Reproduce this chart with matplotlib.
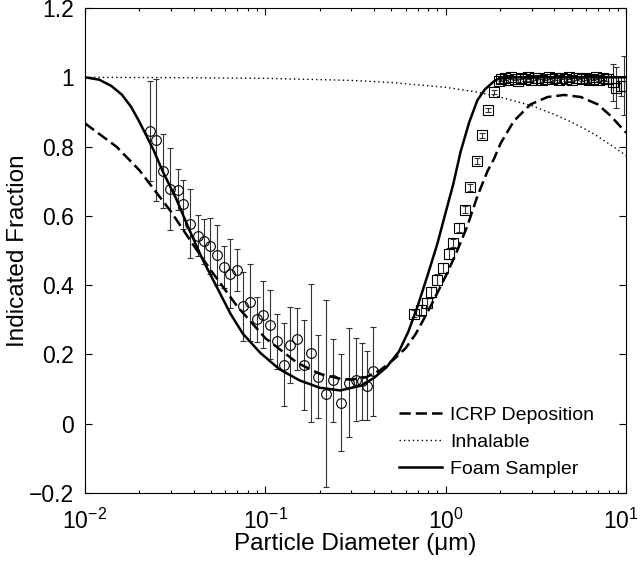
import numpy as np
import matplotlib.pyplot as plt
from matplotlib.ticker import LogLocator, NullFormatter, FixedLocator, FixedFormatter, LogFormatterSciNotation
from matplotlib.transforms import ScaledTranslation

plt.rcParams['font.family'] = ['Liberation Sans', 'DejaVu Sans']
plt.rcParams['mathtext.fontset'] = 'custom'
plt.rcParams['mathtext.rm'] = 'Liberation Sans'
plt.rcParams['mathtext.it'] = 'Liberation Sans:italic'

# ICRP total deposition (dashed)
icrp_d = [0.010, 0.015, 0.020, 0.030, 0.040, 0.050, 0.070, 0.100, 0.150, 0.200,
          0.260, 0.300, 0.365, 0.435, 0.514, 0.600, 0.680, 0.790, 0.900, 1.02,
          1.16, 1.318, 1.50, 1.706, 1.855, 2.02, 2.39, 2.96, 3.67, 4.54,
          5.62, 6.96, 8.25, 10.0]
icrp_f = [0.867, 0.799, 0.732, 0.612, 0.515, 0.442, 0.338, 0.247, 0.176, 0.144,
          0.130, 0.127, 0.135, 0.155, 0.185, 0.218, 0.258, 0.320, 0.378, 0.435,
          0.500, 0.570, 0.657, 0.729, 0.765, 0.810, 0.874, 0.922, 0.943, 0.949,
          0.943, 0.922, 0.888, 0.840]

# inhalable convention (dotted)
inh_d = [0.01, 0.03, 0.1, 0.3, 0.5, 1.0, 1.5, 2.0, 3.0, 4.0, 5.0, 6.0, 7.0, 8.0, 9.0, 10.0]
inh_f = [1.000, 0.999, 0.997, 0.991, 0.985, 0.971, 0.957, 0.943, 0.918, 0.893,
         0.870, 0.849, 0.829, 0.809, 0.791, 0.774]

# foam sampler model (solid)
foam_d = [0.0100, 0.0120, 0.0140, 0.0160, 0.0180, 0.0200, 0.0240, 0.0270, 0.0320,
          0.0380, 0.0450, 0.0540, 0.0640, 0.0750, 0.0940, 0.120, 0.155, 0.200,
          0.260, 0.340, 0.400, 0.470, 0.550, 0.620, 0.700, 0.800, 0.900, 1.00,
          1.10, 1.21, 1.35, 1.50, 1.65, 1.85, 2.00, 2.50, 10.0]
foam_f = [1.000, 0.993, 0.975, 0.950, 0.915, 0.872, 0.790, 0.728, 0.650,
          0.558, 0.473, 0.393, 0.318, 0.260, 0.204, 0.157, 0.125, 0.104,
          0.096, 0.110, 0.132, 0.163, 0.208, 0.265, 0.340, 0.434, 0.520, 0.610,
          0.690, 0.785, 0.870, 0.934, 0.965, 0.988, 0.998, 1.000, 1.000]

# measured points, small particles (circles)
circ_d = [0.0230, 0.0248, 0.0270, 0.0297, 0.0327, 0.0349, 0.0383, 0.0421, 0.0458,
          0.0491, 0.0539, 0.0592, 0.0639, 0.0696, 0.0752, 0.0826, 0.0899, 0.0971,
          0.1056, 0.1161, 0.1264, 0.1376, 0.150, 0.1647, 0.1794, 0.1953, 0.2182,
          0.2377, 0.2634, 0.290, 0.320, 0.345, 0.364, 0.397]
circ_f = [0.845, 0.819, 0.730, 0.678, 0.676, 0.633, 0.577, 0.543, 0.527,
          0.513, 0.488, 0.452, 0.433, 0.443, 0.339, 0.350, 0.302, 0.315,
          0.286, 0.238, 0.170, 0.228, 0.245, 0.170, 0.204, 0.136, 0.087,
          0.125, 0.060, 0.118, 0.127, 0.122, 0.110, 0.151]
circ_e = [0.145, 0.176, 0.106, 0.118, 0.060, 0.070, 0.100, 0.060, 0.065,
          0.080, 0.087, 0.060, 0.100, 0.060, 0.100, 0.110, 0.065, 0.096,
          0.100, 0.080, 0.120, 0.110, 0.090, 0.130, 0.200, 0.120, 0.270,
          0.120, 0.140, 0.157, 0.120, 0.110, 0.100, 0.128]

# measured points, large particles (squares)
sq_d = [0.667, 0.726, 0.784, 0.833, 0.895, 0.964, 1.043, 1.104, 1.186, 1.276,
        1.371, 1.493, 1.585, 1.718, 1.855, 1.977,
        2.03, 2.12, 2.21, 2.31, 2.41, 2.52, 2.63, 2.75, 2.87, 2.99, 3.13, 3.27,
        3.41, 3.56, 3.72, 3.88, 4.05, 4.23, 4.42, 4.62, 4.82, 5.03, 5.26, 5.49,
        5.73, 5.99, 6.25, 6.53, 6.82, 7.12, 7.44, 7.77,
        7.91, 8.44, 8.80, 9.38, 9.79]
sq_f = [0.318, 0.327, 0.349, 0.379, 0.416, 0.450, 0.491, 0.522, 0.566, 0.618,
        0.682, 0.758, 0.832, 0.906, 0.958, 0.989,
        0.995, 0.998, 0.992, 1.000, 0.996, 0.990, 0.999, 0.994, 1.000, 0.993,
        0.997, 0.999, 0.991, 0.996, 1.000, 0.994, 0.998, 0.992, 0.999, 0.995,
        1.000, 0.993, 0.997, 0.999, 0.994, 0.998, 0.991, 0.996, 1.000, 0.993,
        0.997, 0.995,
        0.994, 0.985, 0.970, 0.975, 0.975]
sq_e = [0.010, 0.015, 0.015, 0.015, 0.015, 0.015, 0.015, 0.012, 0.012, 0.010,
        0.010, 0.008, 0.007, 0.006, 0.005, 0.005,
        0.005, 0.005, 0.005, 0.005, 0.005, 0.005, 0.005, 0.005, 0.005, 0.005,
        0.005, 0.005, 0.005, 0.005, 0.005, 0.005, 0.005, 0.005, 0.005, 0.005,
        0.005, 0.005, 0.005, 0.005, 0.005, 0.005, 0.005, 0.005, 0.005, 0.005,
        0.005, 0.005,
        0.010, 0.053, 0.060, 0.030, 0.085]

x_ticks = [0.01, 0.1, 1, 10]
y_ticks = [-0.2, 0, 0.2, 0.4, 0.6, 0.8, 1.0, 1.2]
y_labels = ['\u22120.2', '0', '0.2', '0.4', '0.6', '0.8', '1', '1.2']

fig = plt.figure(figsize=(6.4, 5.72), dpi=100)
ax = fig.add_axes([85 / 640, 1 - 493 / 572, 541 / 640, 485 / 572])

ax.errorbar(circ_d, circ_f, yerr=circ_e, fmt='o', ms=7, mfc='none', mec='k', mew=0.8,
            ecolor='#333333', elinewidth=0.8, capsize=2, zorder=2)
ax.errorbar(sq_d, sq_f, yerr=sq_e, fmt='s', ms=7, mfc='none', mec='k', mew=0.8,
            ecolor='#333333', elinewidth=0.8, capsize=2, zorder=2)

ax.plot(icrp_d, icrp_f, color='k', lw=1.8, ls=(0, (4.5, 2)), label='ICRP Deposition', zorder=3)
ax.plot(inh_d, inh_f, color='k', lw=1.0, ls=(0, (1, 2.2)), label='Inhalable', zorder=3)
ax.plot(foam_d, foam_f, color='k', lw=1.8, ls='-', label='Foam Sampler', zorder=3)

ax.set_xscale('log')
ax.set_xlim(0.01, 10)
ax.set_ylim(-0.2, 1.2)
ax.yaxis.set_major_locator(FixedLocator(y_ticks))
ax.yaxis.set_major_formatter(FixedFormatter(y_labels))
ax.xaxis.set_major_locator(FixedLocator(x_ticks))
ax.xaxis.set_major_formatter(LogFormatterSciNotation())
ax.xaxis.set_minor_locator(LogLocator(base=10, subs=np.arange(2, 10), numticks=10))
ax.xaxis.set_minor_formatter(NullFormatter())

ax.tick_params(which='both', direction='in', top=True, right=True, labelsize=16.5, width=0.8)
ax.tick_params(which='major', length=5)
ax.tick_params(which='minor', length=2.5)
ax.tick_params(axis='x', pad=11)
ax.tick_params(axis='y', pad=8)
for s in ax.spines.values():
    s.set_linewidth(0.8)

# keep the last decade label inside the canvas
last = ax.xaxis.get_major_ticks()[-1].label1
last.set_transform(last.get_transform() + ScaledTranslation(-4 / 72, 0, fig.dpi_scale_trans))

ax.set_xlabel('Particle Diameter (\u03bcm)', fontsize=17.5, labelpad=0)
ax.set_ylabel('Indicated Fraction', fontsize=17.5)
ax.yaxis.set_label_coords(-0.104, 0.5)

ax.legend(loc='upper left', bbox_to_anchor=(0.58, 0.178), frameon=False, fontsize=14,
          handlelength=2.2, handletextpad=0.45, labelspacing=0.48, borderpad=0,
          borderaxespad=0)

fig.savefig('out.png', dpi=100)
